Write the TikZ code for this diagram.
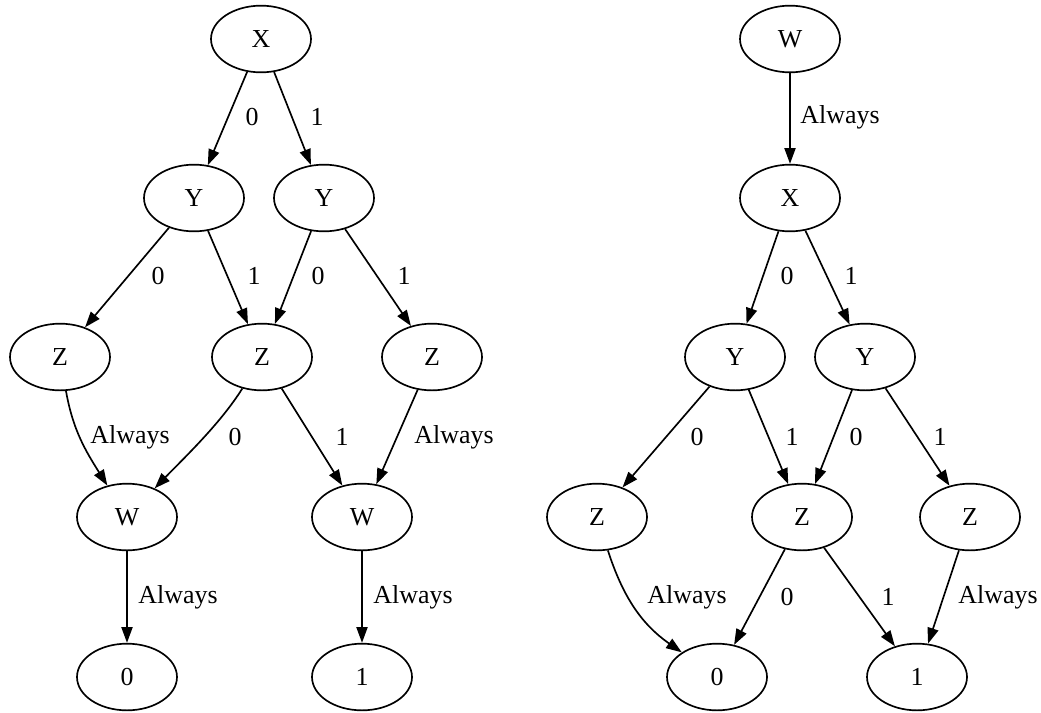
\documentclass[tikz,border=0pt]{standalone}
\usepackage{fontspec}
\setmainfont{Liberation Serif}
\usetikzlibrary{arrows.meta, shapes.geometric}
\begin{document}
\begin{tikzpicture}[x=0.54pt, y=-0.54pt, font=\fontsize{14}{16}\selectfont,
    vertex/.style={ellipse, draw, line width=0.9pt, minimum width=54pt, minimum height=36pt, inner sep=0pt},
    lbl/.style={inner sep=0pt},
    edge/.style={line width=0.9pt, -{Triangle[length=8.5pt,width=6pt]}}]
    \useasboundingbox (0,0) rectangle (1041,712);
    % Left diagram: vertices
    \foreach \n/\px/\py/\lab in {x1/261/39/X, y1/194/198/Y, y2/324/198/Y,
        z1/60/357/Z, z2/262/357/Z, z3/432/357/Z,
        w1/127/517/W, w2/362/517/W, t0/127/677/0, t1/362/677/1} {
        \node[vertex] (\n) at (\px,\py) {\lab};
    }
    \draw[edge] (x1) -- (y1);
    \draw[edge] (x1) -- (y2);
    \draw[edge] (y1) -- (z1);
    \draw[edge] (y1) -- (z2);
    \draw[edge] (y2) -- (z2);
    \draw[edge] (y2) -- (z3);
    \draw[edge] (z1) to[out=-80, in=122] (w1);
    \draw[edge] (z2) to[out=-122, in=46, looseness=0.8] (w1);
    \draw[edge] (z2) -- (w2);
    \draw[edge] (z3) -- (w2);
    \draw[edge] (w1) -- (t0);
    \draw[edge] (w2) -- (t1);
    % Left diagram: edge labels
    \node[lbl] at (252,117) {0};
    \node[lbl] at (317,117) {1};
    \node[lbl] at (158,276) {0};
    \node[lbl] at (254,276) {1};
    \node[lbl] at (318,276) {0};
    \node[lbl] at (404,276) {1};
    \node[lbl] at (130,437) {Always};
    \node[lbl] at (235,437) {0};
    \node[lbl] at (342,437) {1};
    \node[lbl] at (454,437) {Always};
    \node[lbl] at (178,597) {Always};
    \node[lbl] at (413,597) {Always};
    % Right diagram: vertices
    \foreach \n/\px/\py/\lab in {rw/790/39/W, rx/790/198/X, ry1/735/357/Y, ry2/865/357/Y,
        rz1/597/517/Z, rz2/802/517/Z, rz3/970/517/Z, r0/717/677/0, r1/917/677/1} {
        \node[vertex] (\n) at (\px,\py) {\lab};
    }
    \draw[edge] (rw) -- (rx);
    \draw[edge] (rx) -- (ry1);
    \draw[edge] (rx) -- (ry2);
    \draw[edge] (ry1) -- (rz1);
    \draw[edge] (ry1) -- (rz2);
    \draw[edge] (ry2) -- (rz2);
    \draw[edge] (ry2) -- (rz3);
    \draw[edge] (rz1) to[out=-72, in=145] (r0);
    \draw[edge] (rz2) -- (r0);
    \draw[edge] (rz2) -- (r1);
    \draw[edge] (rz3) -- (r1);
    % Right diagram: edge labels
    \node[lbl] at (840,117) {Always};
    \node[lbl] at (787,276) {0};
    \node[lbl] at (851,276) {1};
    \node[lbl] at (697,437) {0};
    \node[lbl] at (792,437) {1};
    \node[lbl] at (856,437) {0};
    \node[lbl] at (940,437) {1};
    \node[lbl] at (687,597) {Always};
    \node[lbl] at (787,597) {0};
    \node[lbl] at (888,597) {1};
    \node[lbl] at (998,597) {Always};
\end{tikzpicture}
\end{document}
